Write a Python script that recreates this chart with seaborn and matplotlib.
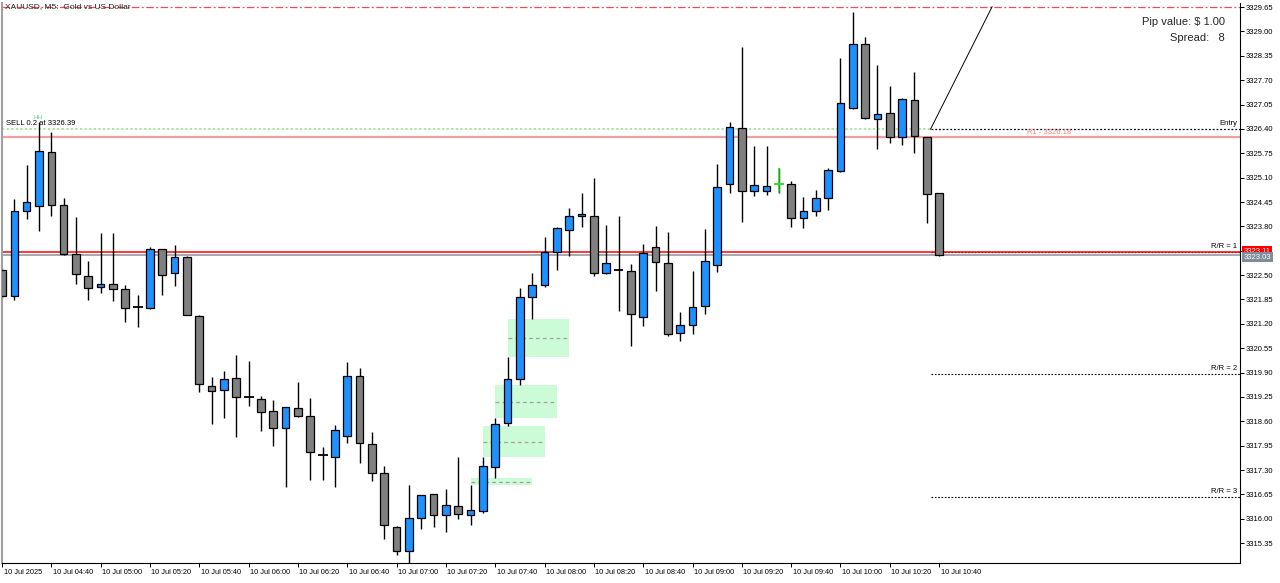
import numpy as np
import pandas as pd
import matplotlib
matplotlib.use("Agg")
import matplotlib.pyplot as plt
import matplotlib.transforms as mtransforms
from matplotlib.patches import Rectangle
import seaborn as sns

# ---------------- data ----------------
open_ = [3322.64, 3321.95, 3324.20, 3324.34, 3325.78, 3324.36, 3323.06, 3322.47, 3322.18, 3322.26,
         3322.12, 3321.63, 3321.62, 3323.19, 3322.55, 3322.98, 3321.42, 3319.55, 3319.43, 3319.75,
         3319.24, 3319.20, 3318.88, 3318.41, 3318.95, 3318.73, 3317.70, 3317.64, 3318.21, 3319.80,
         3317.99, 3317.22, 3315.78, 3315.13, 3316.02, 3316.66, 3316.10, 3316.33, 3316.10, 3316.22,
         3317.39, 3318.55, 3319.72, 3321.91, 3322.24, 3323.12, 3323.70, 3324.07, 3324.07, 3322.55,
         3322.63, 3322.60, 3321.38, 3323.25, 3322.82, 3320.96, 3321.17, 3321.67, 3322.78, 3324.93,
         3326.43, 3324.74, 3324.75, 3324.92, 3324.92, 3324.03, 3324.21, 3324.57, 3325.27, 3326.96,
         3328.66, 3326.66, 3326.82, 3326.19, 3327.18, 3326.18, 3324.69]
high = [3322.70, 3324.52, 3325.44, 3326.58, 3326.31, 3324.55, 3324.04, 3322.87, 3323.62, 3323.62,
        3322.23, 3321.97, 3323.26, 3323.20, 3323.30, 3323.01, 3321.43, 3319.78, 3319.94, 3320.36,
        3320.21, 3319.28, 3319.16, 3318.99, 3319.66, 3319.22, 3317.92, 3318.50, 3320.19, 3320.01,
        3318.31, 3317.41, 3315.81, 3316.89, 3316.64, 3316.67, 3316.80, 3317.65, 3316.89, 3317.64,
        3318.68, 3320.31, 3322.15, 3322.56, 3323.51, 3323.79, 3324.28, 3324.69, 3325.08, 3323.84,
        3324.07, 3322.80, 3323.32, 3323.81, 3323.64, 3321.52, 3322.61, 3323.72, 3325.46, 3326.58,
        3328.58, 3325.94, 3325.94, 3325.37, 3325.02, 3324.59, 3324.77, 3325.37, 3328.29, 3329.52,
        3328.86, 3328.10, 3327.54, 3327.22, 3327.92, 3326.19, 3324.70]
low = [3321.90, 3321.84, 3324.00, 3323.67, 3324.07, 3323.05, 3322.27, 3321.84, 3322.03, 3321.82,
       3321.24, 3321.12, 3321.60, 3321.97, 3322.22, 3321.43, 3319.38, 3318.52, 3318.70, 3318.18,
       3319.02, 3318.35, 3317.94, 3316.86, 3318.72, 3317.04, 3317.04, 3316.86, 3318.01, 3317.50,
       3317.01, 3315.47, 3315.04, 3314.83, 3315.74, 3315.79, 3315.66, 3315.99, 3315.83, 3316.15,
       3317.08, 3318.48, 3319.57, 3321.33, 3322.18, 3322.64, 3323.01, 3323.79, 3322.48, 3322.54,
       3321.55, 3320.62, 3321.15, 3322.08, 3320.88, 3320.75, 3320.92, 3321.45, 3322.59, 3324.68,
       3323.92, 3324.61, 3324.65, 3324.68, 3323.78, 3323.77, 3324.08, 3324.24, 3325.26, 3326.94,
       3326.66, 3325.86, 3326.02, 3325.97, 3325.76, 3323.88, 3323.01]
close = [3321.95, 3324.20, 3324.44, 3325.80, 3324.36, 3323.06, 3322.53, 3322.16, 3322.26, 3322.14,
         3321.62, 3321.64, 3323.21, 3322.50, 3322.98, 3321.44, 3319.59, 3319.40, 3319.73, 3319.24,
         3319.24, 3318.84, 3318.41, 3318.98, 3318.74, 3317.78, 3317.70, 3318.38, 3319.80, 3318.02,
         3317.22, 3315.83, 3315.14, 3316.03, 3316.63, 3316.10, 3316.36, 3316.13, 3316.23, 3317.41,
         3318.52, 3319.73, 3321.91, 3322.23, 3323.11, 3323.75, 3324.07, 3324.14, 3322.56, 3322.82,
         3322.63, 3321.46, 3323.09, 3322.84, 3320.94, 3321.17, 3321.65, 3322.87, 3324.86, 3326.46,
         3324.74, 3324.90, 3324.87, 3324.92, 3324.02, 3324.22, 3324.57, 3325.30, 3327.09, 3328.66,
         3326.68, 3326.79, 3326.18, 3327.20, 3326.21, 3324.67, 3323.03]
highlight_doji = [63]

tick_positions = [0, 4, 8, 12, 16, 20, 24, 28, 32, 36, 40, 44, 48, 52, 56, 60, 64, 68, 72, 76]
tick_labels = ["10 Jul 2025", "10 Jul 04:40", "10 Jul 05:00", "10 Jul 05:20", "10 Jul 05:40",
               "10 Jul 06:00", "10 Jul 06:20", "10 Jul 06:40", "10 Jul 07:00", "10 Jul 07:20",
               "10 Jul 07:40", "10 Jul 08:00", "10 Jul 08:20", "10 Jul 08:40", "10 Jul 09:00",
               "10 Jul 09:20", "10 Jul 09:40", "10 Jul 10:00", "10 Jul 10:20", "10 Jul 10:40"]
price_ticks = [3315.35, 3316.00, 3316.65, 3317.30, 3317.95, 3318.60, 3319.25, 3319.90, 3320.55,
               3321.20, 3321.85, 3322.50, 3323.15, 3323.80, 3324.45, 3325.10, 3325.75, 3326.40,
               3327.05, 3327.70, 3328.35, 3329.00, 3329.65]
hidden_price_label = [3323.15]

fvg_start = [38, 39, 40, 41]
fvg_low = [3316.89, 3317.64, 3318.68, 3320.31]
fvg_high = [3317.08, 3318.48, 3319.57, 3321.33]
fvg_len = 5

entry_price = 3326.39
sl_price = 3329.66
rr_levels = [3323.12, 3319.85, 3316.58]
rr_labels = ["R/R = 1", "R/R = 2", "R/R = 3"]
r1_price = 3326.18
ask_price = 3323.11
bid_price = 3323.03
tool_start = 75.3
diag_x = [75.3, 80.3]
diag_y = [3326.39, 3329.66]

# ---------------- style ----------------
sns.set_theme(style="ticks")
plt.rcParams['font.family'] = ['Liberation Sans', 'DejaVu Sans']

W, H = 1280, 583
fig = plt.figure(figsize=(12.8, 5.83), dpi=100)
fig.patch.set_facecolor("white")
ax = fig.add_axes([2 / W, 20 / H, 1238 / W, 560 / H])
ax.set_facecolor("white")

XMAX = 100.4
ax.set_xlim(0.0, XMAX)
ax.set_ylim(3314.823, 3329.757)

df = pd.DataFrame({"o": open_, "h": high, "l": low, "c": close})
df["x"] = np.arange(len(df))
df["bull"] = df["c"] > df["o"]
df["doji"] = (df["c"] - df["o"]).abs() < 0.015

BLUE = "#1E90FF"
GRAY = "#808080"

# FVG zones
for s, lo, hi in zip(fvg_start, fvg_low, fvg_high):
    ax.add_patch(Rectangle((s, lo), fvg_len, hi - lo, facecolor="#CCFBD8",
                           edgecolor="none", zorder=0.5))
    ax.hlines((lo + hi) / 2, s, s + fvg_len, colors="#A0A0A0", linestyles=(0, (3, 2.5)),
              linewidth=0.9, zorder=0.6)

# horizontal levels
ax.axhline(r1_price, color="#F0A0A0", lw=1.6, zorder=1)
ax.hlines(entry_price, 0, tool_start, colors="#8FE08F", linestyles=(0, (1.5, 1.5)), lw=1.1, zorder=1)
ax.hlines(entry_price, tool_start, XMAX, colors="black", linestyles=(0, (1.5, 1.5)), lw=0.9, zorder=1)
ax.hlines(sl_price, 0, XMAX, colors="#E85050", linestyles=(0, (6, 2, 1.5, 2)), lw=0.9, zorder=1)
for lv in rr_levels:
    ax.hlines(lv, tool_start, XMAX, colors="black", linestyles=(0, (1.5, 1.5)), lw=0.8, zorder=1)
ax.axhline(bid_price, color="#8C939A", lw=1.1, zorder=1)
ax.axhline(ask_price, color="red", lw=1.1, zorder=1.1)
ax.plot(diag_x, diag_y, color="black", lw=0.7, zorder=1)

# wicks
ax.vlines(df["x"], df["l"], df["h"], colors="black", lw=1.0, zorder=2)

# bodies
nd = df[~df["doji"]]
bottoms = np.minimum(nd["o"], nd["c"])
heights = (nd["c"] - nd["o"]).abs()
cols = [BLUE if b else GRAY for b in nd["bull"]]
ax.bar(nd["x"], heights, bottom=bottoms, width=0.62, color=cols,
       edgecolor="black", linewidth=0.9, zorder=3)

# doji bodies
dj = df[df["doji"]]
for _, r in dj.iterrows():
    is_hl = int(r["x"]) in highlight_doji
    colr = "#22DD22" if is_hl else "black"
    if is_hl:
        ax.vlines(r["x"], r["l"], r["h"], colors=colr, lw=1.1, zorder=3)
    ax.hlines(r["c"], r["x"] - 0.4, r["x"] + 0.4, colors=colr, lw=1.3, zorder=3)

# axis ticks
ax.yaxis.tick_right()
ax.set_yticks(price_ticks)
ax.set_yticklabels(["" if p in hidden_price_label else f"{p:.2f}" for p in price_ticks])
ax.tick_params(axis="y", right=True, left=False, labelright=True, labelleft=False,
               length=3, width=0.7, pad=1, labelsize=5.5, colors="black", direction="out")
ax.set_xticks(tick_positions)
ax.set_xticklabels(tick_labels, ha="left")
ax.tick_params(axis="x", bottom=True, length=3, width=0.7, pad=1.5, labelsize=5.3,
               colors="black", direction="out")
for lbl in ax.get_xticklabels():
    lbl.set_transform(lbl.get_transform() + mtransforms.ScaledTranslation(1.5 / 100, 0, fig.dpi_scale_trans))

ax.spines["top"].set_visible(False)
ax.spines["left"].set_color("#A0A0A0")
ax.spines["left"].set_linewidth(1.5)
ax.spines["right"].set_color("black")
ax.spines["right"].set_linewidth(0.8)
ax.spines["bottom"].set_color("black")
ax.spines["bottom"].set_linewidth(0.8)
ax.grid(False)

# price boxes on the axis
bt = mtransforms.blended_transform_factory(ax.transAxes, ax.transData)
ax.text(1.003, ask_price + 0.03, "3323.11", transform=bt, fontsize=5.5, color="white",
        va="center", ha="left", clip_on=False, zorder=5,
        bbox=dict(facecolor="red", edgecolor="none", pad=1.2))
ax.text(1.003, bid_price - 0.05, "3323.03", transform=bt, fontsize=5.5, color="white",
        va="center", ha="left", clip_on=False, zorder=6,
        bbox=dict(facecolor="#7F8C99", edgecolor="none", pad=1.2))

# labels in the chart
ax.annotate("SELL 0.2 at 3326.39", xy=(0.35, entry_price), xytext=(0, 1.5),
            textcoords="offset points", fontsize=5.5, va="bottom", ha="left", color="black")
ax.annotate("HH", xy=(2.9, entry_price), xytext=(0, 6.5), textcoords="offset points",
            fontsize=4.5, va="bottom", ha="center", color="#55CC88")
ax.annotate("Entry", xy=(1.0, entry_price), xycoords=bt, xytext=(-2, 1.5),
            textcoords="offset points", fontsize=5.5, va="bottom", ha="right", color="black")
for lv, lab in zip(rr_levels, rr_labels):
    ax.annotate(lab, xy=(1.0, lv), xycoords=bt, xytext=(-2, 1.5),
                textcoords="offset points", fontsize=5.5, va="bottom", ha="right", color="black")
ax.annotate("R1 - 3326.18", xy=(84.9, r1_price), xytext=(0, 1.0), textcoords="offset points",
            fontsize=5.5, va="bottom", ha="center", color="#F08080")

fig.text(5 / W, 1 - 7 / H, "XAUUSD, M5:  Gold vs US Dollar", fontsize=6, va="center", ha="left")
fig.text(1225 / W, 1 - 22 / H, "Pip value: $ 1.00", fontsize=8, va="center", ha="right")
fig.text(1225 / W, 1 - 38 / H, "Spread:   8", fontsize=8, va="center", ha="right")

fig.savefig("out.png", dpi=100, facecolor="white")
